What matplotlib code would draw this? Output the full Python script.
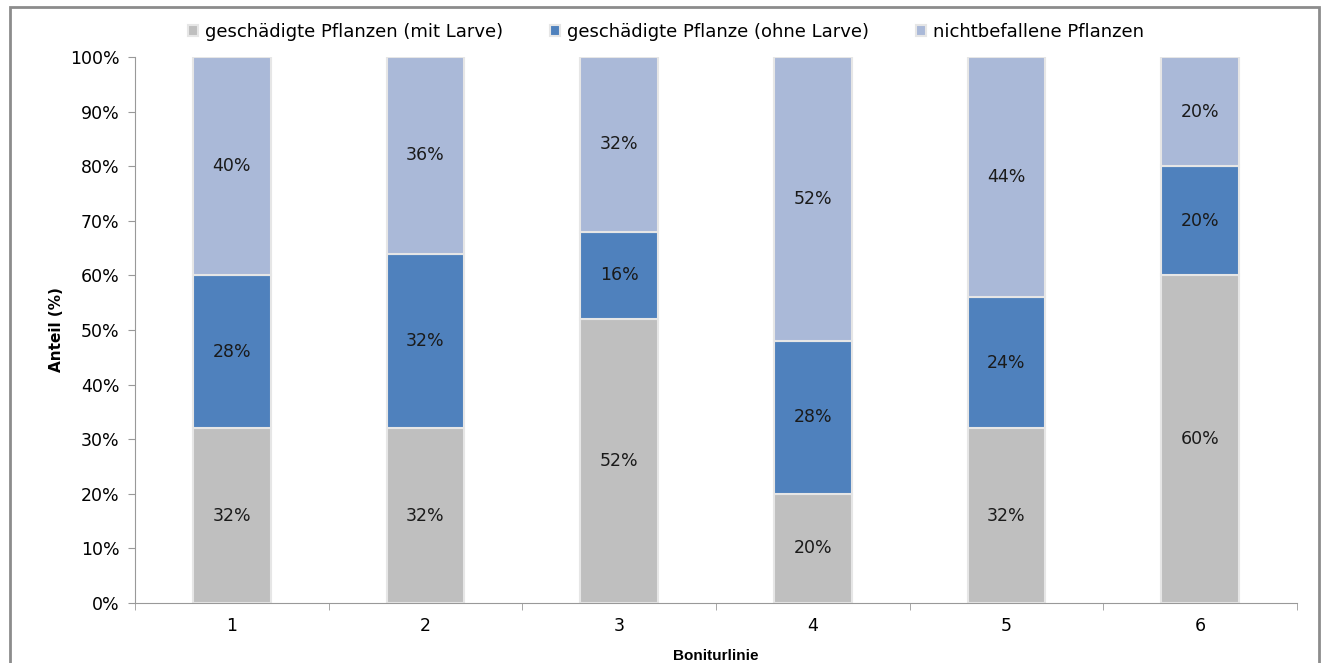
import matplotlib.pyplot as plt
from matplotlib.patches import Rectangle
from matplotlib.ticker import PercentFormatter

# Bonitur categories and shares (%)
categories = ['1', '2', '3', '4', '5', '6']
mit_larve = [32, 32, 52, 20, 32, 60]
ohne_larve = [28, 32, 16, 28, 24, 20]
nicht_befallen = [40, 36, 32, 52, 44, 20]
series_names = ['geschädigte Pflanzen (mit Larve)',
                'geschädigte Pflanze (ohne Larve)',
                'nichtbefallene Pflanzen']
colors = ['#BFBFBF', '#4F81BD', '#AAB9D8']

plt.rcParams['font.family'] = 'DejaVu Sans'

fig = plt.figure(figsize=(13.27, 6.63), dpi=100)
ax = fig.add_axes([0.1017, 0.0905, 0.8757, 0.8235])

# outer frame like the exported chart
fig.patches.append(Rectangle((0.0075, -0.05), 0.9865, 1.0394, transform=fig.transFigure,
                             fill=False, edgecolor='#8c8c8c', linewidth=2))

x = range(len(categories))
bottom = [0] * len(categories)
for vals, name, col in zip([mit_larve, ohne_larve, nicht_befallen], series_names, colors):
    bars = ax.bar(x, vals, width=0.4, bottom=bottom, color=col, label=name,
                  edgecolor='#e6e6e6', linewidth=1.5)
    for rect, v, b in zip(bars, vals, bottom):
        ax.text(rect.get_x() + rect.get_width() / 2, b + v / 2, f'{v}%',
                ha='center', va='center', fontsize=12.5, color='#1a1a1a')
    bottom = [b + v for b, v in zip(bottom, vals)]

ax.set_xlim(-0.5, len(categories) - 0.5)
ax.set_ylim(0, 100)
ax.set_yticks(range(0, 101, 10))
ax.yaxis.set_major_formatter(PercentFormatter(decimals=0))
ax.set_xticks(list(x))
ax.set_xticklabels(categories)
ax.set_xticks([i - 0.5 for i in range(len(categories) + 1)], minor=True)
ax.tick_params(axis='x', which='major', length=0, pad=10, labelsize=12.5)
ax.tick_params(axis='x', which='minor', length=5, color='#999999', direction='out')
ax.tick_params(axis='y', length=5, color='#999999', labelsize=12.5, pad=6)

for s in ['top', 'right']:
    ax.spines[s].set_visible(False)
for s in ['left', 'bottom']:
    ax.spines[s].set_color('#999999')

ax.set_ylabel('Anteil (%)', fontsize=11, fontweight='bold', family='Liberation Sans Narrow')
ax.set_xlabel('Boniturlinie', fontsize=11, fontweight='bold', family='Liberation Sans', labelpad=10)

ax.legend(loc='lower center', bbox_to_anchor=(0.457, 1.0), ncol=3, frameon=False,
          fontsize=13, handlelength=0.55, handleheight=0.55, handletextpad=0.4,
          columnspacing=2.6, borderaxespad=0.5)

plt.savefig('out.png', dpi=100)
